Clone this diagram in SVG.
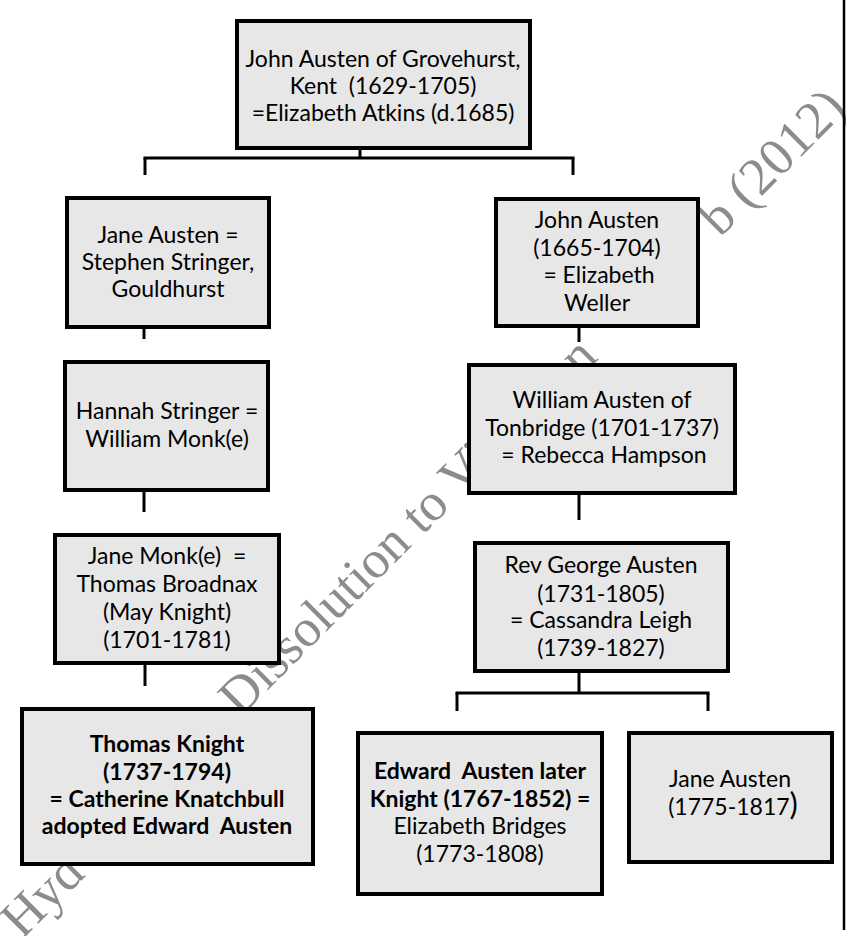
<svg xmlns="http://www.w3.org/2000/svg" width="850" height="936" viewBox="0 0 850 936">
<style>
.bg{fill:#ffffff}
.box{fill:#e7e7e7;stroke:#000;stroke-width:4}
.t{font-family:Lato,"Open Sans","Liberation Sans",sans-serif;font-size:23px;fill:#000;text-anchor:middle}
.b{font-weight:bold}
.conn line{stroke:#000;stroke-width:3;fill:none}
.wm{font-family:"Liberation Serif",serif;font-size:53px;fill:#8c8c8c}
.border{stroke:#000;stroke-width:2.5}
</style>
<rect class="bg" x="0" y="0" width="850" height="936"/>
<g id="watermark">
<text class="wm" transform="translate(22,940) rotate(-45)">Hyd</text>
<text class="wm" transform="translate(240,718) rotate(-45)">Dissolution to Victorian</text>
<text class="wm" transform="translate(720,238) rotate(-45)">b (2012)</text>
</g>
<line class="border" x1="844" y1="0" x2="844" y2="930"/>
<g id="connectors" class="conn">
<line x1="360" y1="148" x2="360" y2="158"/>
<line x1="143.5" y1="158" x2="574.5" y2="158"/>
<line x1="145" y1="158" x2="145" y2="175"/>
<line x1="573" y1="158" x2="573" y2="175"/>
<line x1="144" y1="327" x2="144" y2="339"/>
<line x1="144" y1="490" x2="144" y2="512"/>
<line x1="145" y1="663" x2="145" y2="686"/>
<line x1="579" y1="326" x2="579" y2="342"/>
<line x1="579" y1="493" x2="579" y2="520"/>
<line x1="579" y1="671" x2="579" y2="693"/>
<line x1="455.5" y1="693" x2="709.5" y2="693"/>
<line x1="457" y1="693" x2="457" y2="711"/>
<line x1="708" y1="693" x2="708" y2="711"/>
</g>
<g id="n-john-grovehurst">
<rect class="box" x="237" y="21" width="293" height="127"/>
<text class="t" xml:space="preserve"><tspan x="383" y="67">John Austen of Grovehurst,</tspan><tspan x="383" y="94">Kent  (1629-1705)</tspan><tspan x="383" y="121">=Elizabeth Atkins (d.1685)</tspan></text>
</g>
<g id="n-jane-stringer">
<rect class="box" x="67" y="198" width="202" height="129"/>
<text class="t"><tspan x="168" y="243">Jane Austen =</tspan><tspan x="168" y="270">Stephen Stringer,</tspan><tspan x="168" y="297">Gouldhurst</tspan></text>
</g>
<g id="n-hannah">
<rect class="box" x="65" y="362" width="203" height="128"/>
<text class="t"><tspan x="167" y="419">Hannah Stringer =</tspan><tspan x="167" y="447">William Monk(e)</tspan></text>
</g>
<g id="n-jane-monk">
<rect class="box" x="55" y="535" width="224" height="128"/>
<text class="t" xml:space="preserve"><tspan x="167" y="564">Jane Monk(e)  =</tspan><tspan x="167" y="592">Thomas Broadnax</tspan><tspan x="167" y="620">(May Knight)</tspan><tspan x="167" y="648">(1701-1781)</tspan></text>
</g>
<g id="n-thomas-knight">
<rect class="box" x="22" y="709" width="291" height="155"/>
<text class="t b" xml:space="preserve"><tspan x="167" y="752">Thomas Knight</tspan><tspan x="167" y="780">(1737-1794)</tspan><tspan x="167" y="807">= Catherine Knatchbull</tspan><tspan x="167" y="834">adopted Edward  Austen</tspan></text>
</g>
<g id="n-john-1665">
<rect class="box" x="496" y="199" width="202" height="127"/>
<text class="t"><tspan x="597" y="228">John Austen</tspan><tspan x="597" y="256">(1665-1704)</tspan><tspan x="599" y="283">= Elizabeth</tspan><tspan x="597" y="311">Weller</tspan></text>
</g>
<g id="n-william">
<rect class="box" x="469" y="365" width="266" height="128"/>
<text class="t"><tspan x="602" y="408">William Austen of</tspan><tspan x="602" y="436">Tonbridge (1701-1737)</tspan><tspan x="604" y="463">= Rebecca Hampson</tspan></text>
</g>
<g id="n-george">
<rect class="box" x="475" y="543" width="253" height="128"/>
<text class="t"><tspan x="601" y="573">Rev George Austen</tspan><tspan x="601" y="602">(1731-1805)</tspan><tspan x="601" y="628">= Cassandra Leigh</tspan><tspan x="601" y="656">(1739-1827)</tspan></text>
</g>
<g id="n-edward">
<rect class="box" x="358" y="733" width="244" height="161"/>
<text class="t" xml:space="preserve"><tspan class="b" x="480" y="779">Edward  Austen later</tspan><tspan class="b" x="480" y="807">Knight (1767-1852) =</tspan><tspan x="480" y="834">Elizabeth Bridges</tspan><tspan x="480" y="862">(1773-1808)</tspan></text>
</g>
<g id="n-jane-austen">
<rect class="box" x="629" y="733" width="203" height="129"/>
<text class="t"><tspan x="730" y="787">Jane Austen</tspan><tspan x="733" y="815">(1775-1817<tspan style="font-size:31px">)</tspan></tspan></text>
</g>
</svg>
